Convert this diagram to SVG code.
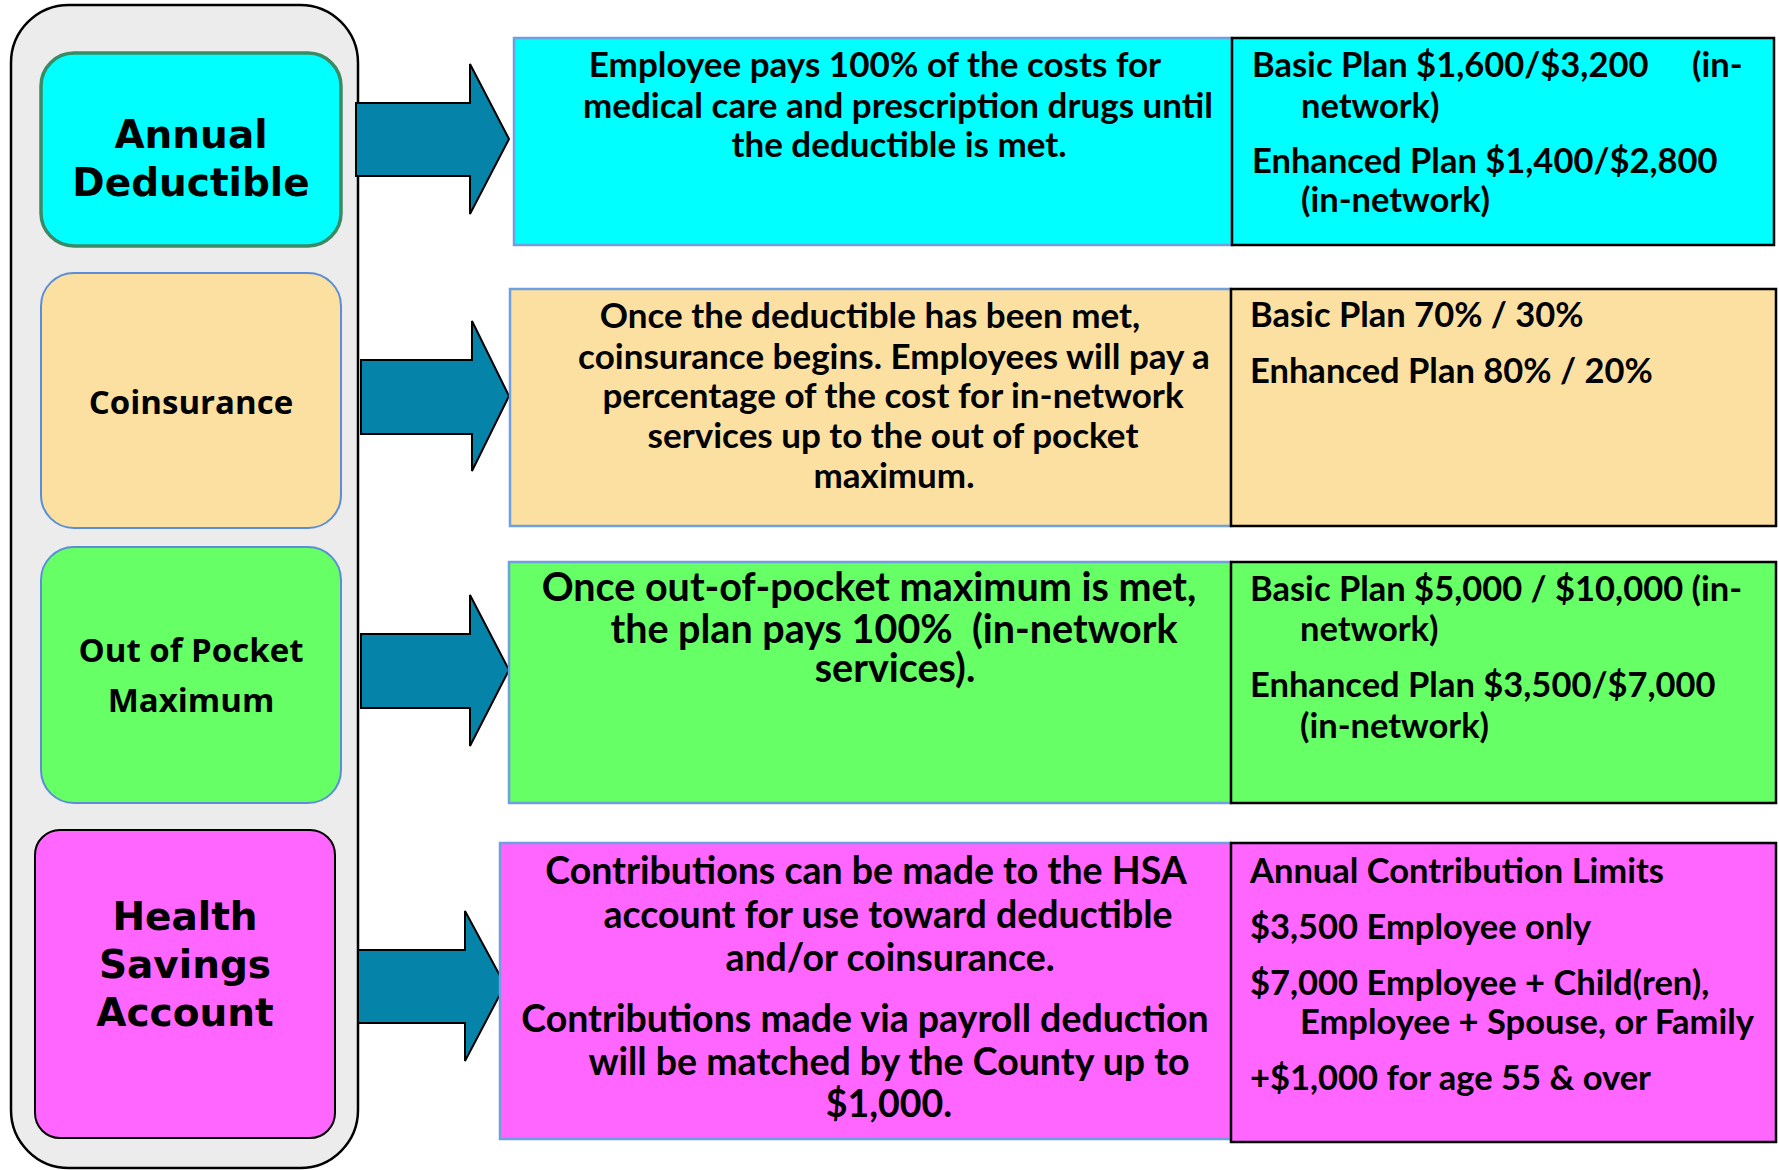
<svg xmlns="http://www.w3.org/2000/svg" width="1779" height="1170" viewBox="0 0 1779 1170">
<style>
.lbl{font-family:"DejaVu Sans",Verdana,sans-serif;font-weight:bold;font-size:39px;fill:#000;text-anchor:middle}
.lbl2{font-family:"Open Sans","Noto Sans",sans-serif;font-weight:bold;font-size:33px;fill:#000;text-anchor:middle}
.mid{font-family:Lato,"Open Sans",sans-serif;font-weight:bold;font-size:35px;fill:#000;text-anchor:middle}
.rt{font-family:Lato,"Open Sans",sans-serif;font-weight:bold;font-size:34.5px;fill:#000}
.arrow{fill:#0583A9;stroke:#000;stroke-width:2}
.bl{stroke:#6F9FDF;stroke-width:2.5}
.bk{stroke:#000;stroke-width:2.5}
</style>
<rect width="1779" height="1170" fill="#fff"/>
<g id="container">
<rect x="11" y="5" width="347" height="1163" rx="58" fill="#ECECEC" stroke="#000" stroke-width="2.5"/>
</g>
<g id="node-annual-deductible">
<rect x="41" y="53" width="300" height="193" rx="33" fill="#00FFFF" stroke="#3A8A66" stroke-width="3.5"/>
<text class="lbl"><tspan x="191" y="148">Annual</tspan><tspan x="191" y="196">Deductible</tspan></text>
</g>
<g id="node-coinsurance">
<rect x="41" y="273" width="300" height="255" rx="33" fill="#FBE0A1" stroke="#5B8ED6" stroke-width="2"/>
<text class="lbl2" x="191" y="414">Coinsurance</text>
</g>
<g id="node-oop">
<rect x="41" y="547" width="300" height="256" rx="33" fill="#66FF66" stroke="#5B8ED6" stroke-width="2"/>
<text class="lbl2"><tspan x="191" y="662">Out of Pocket</tspan><tspan x="191" y="712">Maximum</tspan></text>
</g>
<g id="node-hsa">
<rect x="35" y="830" width="300" height="308" rx="25" fill="#FF66FF" stroke="#000" stroke-width="2"/>
<text class="lbl"><tspan x="185" y="930">Health</tspan><tspan x="185" y="978">Savings</tspan><tspan x="185" y="1026">Account</tspan></text>
</g>
<g id="connectors">
<path class="arrow" d="M356,103 H470 V64 L509,139 L470,214 V176 H356 Z"/>
<path class="arrow" d="M361,360 H472 V321 L509,396 L472,471 V434 H361 Z"/>
<path class="arrow" d="M361,634 H470 V595 L509,670 L470,746 V708 H361 Z"/>
<path class="arrow" d="M358,950 H465 V911 L505,985 L465,1061 V1023 H358 Z"/>
</g>
<g id="row-deductible">
<rect class="bl" x="514" y="38" width="718" height="207" fill="#00FFFF"/>
<rect class="bk" x="1232" y="38" width="542" height="207" fill="#00FFFF"/>
<text class="mid"><tspan x="875" y="77">Employee pays 100% of the costs for</tspan><tspan x="898" y="118">medical care and prescription drugs until</tspan><tspan x="899" y="157">the deductible is met.</tspan></text>
<text class="rt"><tspan x="1252" y="77">Basic Plan $1,600/$3,200</tspan><tspan x="1692" y="77">(in-</tspan><tspan x="1301" y="118">network)</tspan></text>
<text class="rt"><tspan x="1252" y="173">Enhanced Plan $1,400/$2,800</tspan><tspan x="1301" y="212">(in-network)</tspan></text>
</g>
<g id="row-coinsurance">
<rect class="bl" x="510" y="289" width="721" height="237" fill="#FBE0A1"/>
<rect class="bk" x="1231" y="289" width="545" height="237" fill="#FBE0A1"/>
<text class="mid"><tspan x="870" y="328">Once the deductible has been met,</tspan><tspan x="894" y="369">coinsurance begins. Employees will pay a</tspan><tspan x="893" y="408">percentage of the cost for in-network</tspan><tspan x="893" y="448">services up to the out of pocket</tspan><tspan x="894" y="488">maximum.</tspan></text>
<text class="rt" x="1250" y="327">Basic Plan 70% / 30%</text>
<text class="rt" x="1250" y="383">Enhanced Plan 80% / 20%</text>
</g>
<g id="row-oop">
<rect class="bl" x="509" y="562" width="722" height="241" fill="#66FF66"/>
<rect class="bk" x="1231" y="562" width="545" height="241" fill="#66FF66"/>
<text class="mid" style="font-size:39.5px"><tspan x="869" y="601">Once out-of-pocket maximum is met,</tspan><tspan x="894" y="643">the plan pays 100%&#160; (in-network</tspan><tspan x="895" y="682">services).</tspan></text>
<text class="rt"><tspan x="1250" y="601">Basic Plan $5,000 / $10,000 (in-</tspan><tspan x="1300" y="641">network)</tspan></text>
<text class="rt"><tspan x="1250" y="697">Enhanced Plan $3,500/$7,000</tspan><tspan x="1300" y="738">(in-network)</tspan></text>
</g>
<g id="row-hsa">
<rect class="bl" x="500" y="843" width="731" height="296" fill="#FF66FF"/>
<rect class="bk" x="1231" y="843" width="545" height="299" fill="#FF66FF"/>
<text class="mid" style="font-size:37.5px"><tspan x="866" y="884">Contributions can be made to the HSA</tspan><tspan x="888" y="928">account for use toward deductible</tspan><tspan x="890" y="971">and/or coinsurance.</tspan></text>
<text class="mid" style="font-size:37.5px"><tspan x="865" y="1032">Contributions made via payroll deduction</tspan><tspan x="889" y="1075">will be matched by the County up to</tspan><tspan x="889" y="1117">$1,000.</tspan></text>
<text class="rt" x="1250" y="883">Annual Contribution Limits</text>
<text class="rt" x="1250" y="939">$3,500 Employee only</text>
<text class="rt"><tspan x="1250" y="995">$7,000 Employee + Child(ren),</tspan><tspan x="1300" y="1034">Employee + Spouse, or Family</tspan></text>
<text class="rt" x="1250" y="1090">+$1,000 for age 55 &amp; over</text>
</g>
</svg>
